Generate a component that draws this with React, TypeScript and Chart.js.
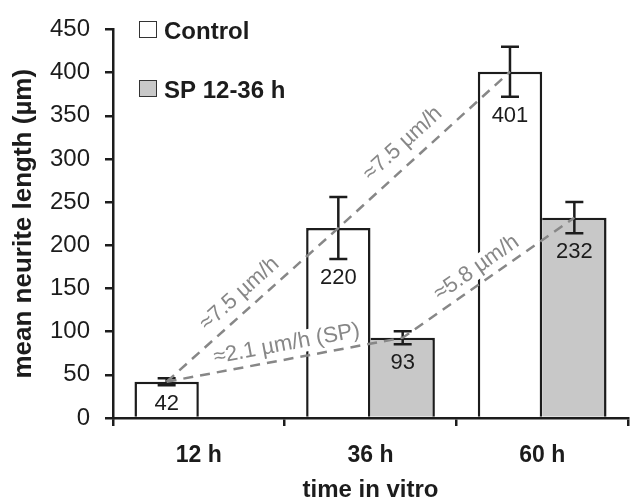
import React, { useEffect, useRef } from "react";
import { Chart, registerables } from "chart.js";

Chart.register(...registerables);

const categories = ["12 h", "36 h", "60 h"];
const controlValues: (number | null)[] = [42, 220, 401];
const controlErrors: (number | null)[] = [4, 36, 29];
const spValues: (number | null)[] = [null, 93, 232];
const spErrors: (number | null)[] = [null, 7.5, 18];
const seriesNames = ["Control", "SP 12-36 h"];
const yMin = 0;
const yMax = 450;
const yStep = 50;
const xTitle = "time in vitro";
const yTitle = "mean neurite length (µm)";
// trend lines: list of [datasetIndex, categoryIndex]
const controlTrend: [number, number][] = [[0, 0], [0, 1], [0, 2]];
const spTrend: [number, number][] = [[0, 0], [1, 1], [1, 2]];
const rateLabels = ["≈7.5 µm/h", "≈7.5 µm/h", "≈2.1 µm/h (SP)", "≈5.8 µm/h"];

const FONT = "'Liberation Sans', Arial, Helvetica, sans-serif";
const INK = "#1c1c1c";
const GRAY_FILL = "#c8c8c8";
const DASH = "#878787";

const overlayPlugin = {
  id: "overlay",
  afterDatasetsDraw(chart: any) {
    const ctx = chart.ctx;
    const y = chart.scales.y;
    const values = [controlValues, spValues];
    const errors = [controlErrors, spErrors];
    const metas = [chart.getDatasetMeta(0), chart.getDatasetMeta(1)];
    const pt = (ds: number, i: number) => ({
      x: metas[ds].data[i].x,
      y: y.getPixelForValue(values[ds][i] as number),
    });
    const l1 = controlTrend.map(([d, i]) => pt(d, i));
    const l2 = spTrend.map(([d, i]) => pt(d, i));

    const specs = [
      { a: l1[0], b: l1[1], t: 0.49, off: 17, text: rateLabels[0] },
      { a: l1[1], b: l1[2], t: 0.45, off: 19, text: rateLabels[1] },
      { a: l2[0], b: l2[1], t: 0.52, off: 15, text: rateLabels[2] },
      { a: l2[1], b: l2[2], t: 0.48, off: 15, text: rateLabels[3] },
    ];
    ctx.save();
    ctx.font = `22px ${FONT}`;
    const placed = specs.map((s) => {
      const dx = s.b.x - s.a.x;
      const dy = s.b.y - s.a.y;
      const len = Math.hypot(dx, dy);
      const ang = Math.atan2(dy, dx);
      const nx = dy / len;
      const ny = -dx / len;
      const cx = s.a.x + dx * s.t + nx * s.off;
      const cy = s.a.y + dy * s.t + ny * s.off;
      return { cx, cy, ang, text: s.text, w: ctx.measureText(s.text).width };
    });
    for (const p of placed) {
      ctx.save();
      ctx.translate(p.cx, p.cy);
      ctx.rotate(p.ang);
      ctx.fillStyle = "#ffffff";
      ctx.fillRect(-p.w / 2 - 1, -11, p.w + 2, 22);
      ctx.restore();
    }

    // error bars
    ctx.strokeStyle = INK;
    ctx.lineWidth = 2.5;
    for (let ds = 0; ds < 2; ds++) {
      values[ds].forEach((v, i) => {
        const e = errors[ds][i];
        if (v == null || e == null) return;
        const x = metas[ds].data[i].x;
        const top = y.getPixelForValue(v + e);
        const bot = y.getPixelForValue(v - e);
        ctx.beginPath();
        ctx.moveTo(x, top);
        ctx.lineTo(x, bot);
        ctx.moveTo(x - 9, top);
        ctx.lineTo(x + 9, top);
        ctx.moveTo(x - 9, bot);
        ctx.lineTo(x + 9, bot);
        ctx.stroke();
      });
    }

    // dashed trend lines
    ctx.strokeStyle = DASH;
    ctx.lineWidth = 2.5;
    ctx.setLineDash([10, 7]);
    for (const line of [l1, l2]) {
      ctx.beginPath();
      ctx.moveTo(line[0].x, line[0].y);
      for (let k = 1; k < line.length; k++) ctx.lineTo(line[k].x, line[k].y);
      ctx.stroke();
    }
    ctx.setLineDash([]);

    // rate texts
    ctx.fillStyle = DASH;
    ctx.textAlign = "center";
    ctx.textBaseline = "middle";
    for (const p of placed) {
      ctx.save();
      ctx.translate(p.cx, p.cy);
      ctx.rotate(p.ang);
      ctx.fillText(p.text, 0, 0);
      ctx.restore();
    }

    // value labels
    ctx.fillStyle = INK;
    ctx.font = `22px ${FONT}`;
    for (let ds = 0; ds < 2; ds++) {
      values[ds].forEach((v, i) => {
        if (v == null) return;
        const e = errors[ds][i] || 0;
        const x = metas[ds].data[i].x;
        const yy = Math.max(y.getPixelForValue(v - e), y.getPixelForValue(v)) + 19;
        ctx.fillText(String(v), x, yy);
      });
    }

    // legend
    const area = chart.chartArea;
    const fills = ["#ffffff", GRAY_FILL];
    const rowY = [29.5, 88.5];
    ctx.font = `bold 24px ${FONT}`;
    ctx.textAlign = "left";
    ctx.textBaseline = "alphabetic";
    for (let k = 0; k < 2; k++) {
      const bx = area.left + 26;
      const by = rowY[k] - 8.5;
      ctx.fillStyle = fills[k];
      ctx.fillRect(bx, by, 18, 17);
      ctx.strokeStyle = "#333";
      ctx.lineWidth = 1;
      ctx.strokeRect(bx + 0.5, by + 0.5, 17, 16);
      ctx.fillStyle = INK;
      ctx.fillText(seriesNames[k], area.left + 51, rowY[k] + 9);
    }
    ctx.restore();
  },
};

export default function App() {
  const ref = useRef<HTMLCanvasElement | null>(null);
  useEffect(() => {
    if (!ref.current) return;
    const chart = new Chart(ref.current, {
      type: "bar",
      data: {
        labels: categories,
        datasets: [
          {
            label: seriesNames[0],
            data: controlValues,
            backgroundColor: "#ffffff",
            borderColor: INK,
            borderWidth: { top: 2.5, left: 2.5, right: 2.5, bottom: 0 },
            borderSkipped: false,
          },
          {
            label: seriesNames[1],
            data: spValues,
            backgroundColor: GRAY_FILL,
            borderColor: INK,
            borderWidth: { top: 2.5, left: 0, right: 2.5, bottom: 0 },
            borderSkipped: false,
          },
        ],
      },
      options: {
        responsive: false,
        animation: false,
        categoryPercentage: 0.75,
        barPercentage: 1,
        layout: { autoPadding: false, padding: { top: 16, right: 6, left: 0, bottom: 0 } },
        plugins: { legend: { display: false }, tooltip: { enabled: false } },
        scales: {
          x: {
            grid: {
              drawOnChartArea: false,
              drawTicks: true,
              tickLength: 8,
              color: INK,
              lineWidth: 2.5,
              offset: true,
            },
            border: { color: INK, width: 2.5 },
            ticks: { color: INK, font: { family: FONT, size: 23, weight: "bold" }, padding: 16 },
            title: {
              display: true,
              text: xTitle,
              color: INK,
              font: { family: FONT, size: 24, weight: "bold", lineHeight: 1 },
              padding: { top: 0, bottom: 0 },
            },
            afterFit: (s: any) => {
              s.height = 84;
            },
          },
          y: {
            min: yMin,
            max: yMax,
            grid: { drawOnChartArea: false, drawTicks: true, tickLength: 8, color: INK, lineWidth: 2.5 },
            border: { color: INK, width: 2.5 },
            ticks: { stepSize: yStep, color: INK, font: { family: FONT, size: 24 }, padding: 15 },
            title: {
              display: true,
              text: yTitle,
              color: INK,
              font: { family: FONT, size: 26, weight: "bold", lineHeight: 1 },
              padding: { top: 11, bottom: 0 },
            },
            afterFit: (s: any) => {
              s.width = 113;
            },
          },
        },
      },
      plugins: [overlayPlugin],
    } as any);
    return () => chart.destroy();
  }, []);
  return (
    <div style={{ position: "fixed", left: 0, top: 0, width: 634, height: 502, background: "#fff" }}>
      <canvas ref={ref} width={634} height={502} style={{ display: "block" }} />
    </div>
  );
}
